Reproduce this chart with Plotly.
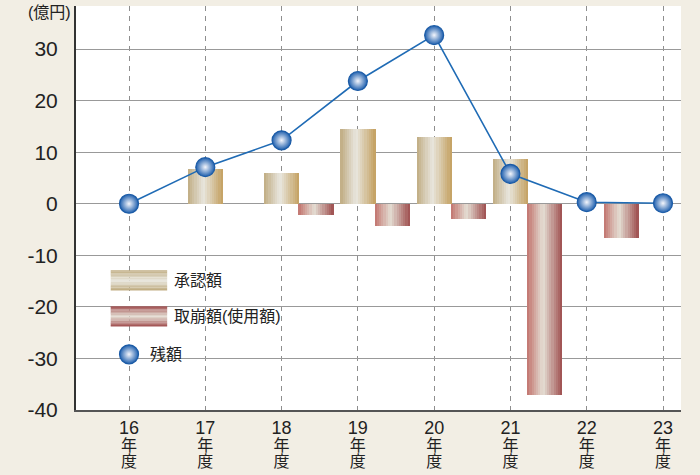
import plotly.graph_objects as go
import numpy as np

years = [16, 17, 18, 19, 20, 21, 22, 23]
year_nums = ["16", "17", "18", "19", "20", "21", "22", "23"]
y_ticks = [-40, -30, -20, -10, 0, 10, 20, 30]
y_tick_labels = ["-40", "-30", "-20", "-10", "0", "10", "20", "30"]
approved = [0, 6.7, 5.9, 14.5, 12.9, 8.6, 0, 0]
withdrawn = [0, 0, -2.1, -4.3, -3.0, -37.1, -6.6, 0]
balance = [0, 7.1, 12.3, 23.8, 32.7, 5.8, 0.3, 0.1]

tick_labels = ["<span style='font-size:18px'>%s</span><br>"
               "<span style='font-size:16px'>年</span><br>"
               "<span style='font-size:16px'>度</span>" % n for n in year_nums]

FONT = "Liberation Sans, Noto Sans CJK JP, sans-serif"

def lerp(c1, c2, t):
    return tuple(int(round(a + (b - a) * t)) for a, b in zip(c1, c2))

def grad(stops, t):
    for (p0, c0), (p1, c1) in zip(stops[:-1], stops[1:]):
        if p0 <= t <= p1:
            return lerp(c0, c1, (t - p0) / (p1 - p0))
    return stops[-1][1]

beige_stops = [(0, (192, 172, 130)), (0.45, (232, 230, 222)), (1, (196, 160, 96))]
red_stops = [(0, (194, 116, 110)), (0.45, (228, 222, 212)), (1, (158, 78, 78))]

fig = go.Figure()
N = 16
def add_gradient_bars(yvals, start, width, stops):
    w = width / N
    for i in range(N):
        c = grad(stops, (i + 0.5) / N)
        fig.add_trace(go.Bar(
            x=years, y=yvals, offset=start + i * w, width=w * 1.05,
            marker=dict(color="rgb(%d,%d,%d)" % c, line=dict(width=0)),
            showlegend=False, hoverinfo="skip"))

add_gradient_bars(approved, -0.23, 0.46, beige_stops)
add_gradient_bars(withdrawn, 0.22, 0.46, red_stops)

marker_style = dict(size=19, color="#1D5EAD",
                    gradient=dict(type="radial", color="#F4F6FC"),
                    line=dict(color="#1B5BA6", width=1.2))

fig.add_trace(go.Scatter(x=years, y=balance, mode="lines+markers",
                         line=dict(color="#1F6BB5", width=1.6),
                         marker=marker_style, showlegend=False, hoverinfo="skip"))

# custom legend
shapes = []
def swatch(x0, x1, y0, y1, dark, light):
    M = 14
    h = (y1 - y0) / M
    for i in range(M):
        t = (i + 0.5) / M
        tt = abs(t - 0.5) * 2
        c = lerp(light, dark, tt)
        shapes.append(dict(type="rect", xref="x", yref="y",
                           x0=x0, x1=x1, y0=y1 - i * h, y1=y1 - (i + 1) * h - 0.02,
                           fillcolor="rgb(%d,%d,%d)" % c, line=dict(width=0), layer="above"))

swatch(15.76, 16.5, -16.8, -12.9, (190, 170, 125), (232, 230, 222))
swatch(15.76, 16.5, -23.8, -19.9, (160, 78, 78), (228, 222, 212))

fig.add_trace(go.Scatter(x=[16], y=[-29.2], mode="markers", marker=marker_style,
                         showlegend=False, hoverinfo="skip"))

annotations = [
    dict(x=16.56, y=-14.85, xref="x", yref="y", text="承認額", showarrow=False,
         xanchor="left", yanchor="middle", font=dict(size=16, color="#222", family=FONT)),
    dict(x=16.56, y=-21.85, xref="x", yref="y", text="取崩額(使用額)", showarrow=False,
         xanchor="left", yanchor="middle", font=dict(size=16, color="#222", family=FONT)),
    dict(x=16.25, y=-29.2, xref="x", yref="y", text="残額", showarrow=False,
         xanchor="left", yanchor="middle", font=dict(size=16, color="#222", family=FONT)),
    dict(x=-0.005, y=0.985, xref="paper", yref="paper", text="(億円)", showarrow=False,
         xanchor="right", yanchor="middle", font=dict(size=16, color="#222", family=FONT)),
]

fig.update_layout(
    width=700, height=475,
    margin=dict(l=76, r=19, t=6, b=65),
    paper_bgcolor="#F2EEE4", plot_bgcolor="#FFFFFF",
    barmode="overlay", bargap=0,
    shapes=shapes, annotations=annotations,
    font=dict(family=FONT, color="#222"),
)
fig.update_xaxes(range=[15.305, 23.236], tickvals=years, ticktext=tick_labels,
                 showgrid=True, gridcolor="#8E8E8E", gridwidth=1, griddash="5px,5px",
                 showline=True, linecolor="#555555", linewidth=2, automargin=False,
                 tickfont=dict(size=13, family=FONT), ticks="", ticklabelstandoff=6,
                 zeroline=False)
fig.update_yaxes(range=[-40, 38.35], tickvals=y_ticks, ticktext=y_tick_labels,
                 showgrid=True, gridcolor="#999999", gridwidth=1,
                 showline=True, linecolor="#333333", linewidth=2, automargin=False,
                 tickfont=dict(size=21, family=FONT), ticks="", ticklabelstandoff=12,
                 zeroline=False)

fig.write_html("out.html", config={"displayModeBar": False},
               post_script="document.body.style.margin='0';document.body.style.overflow='hidden';")
